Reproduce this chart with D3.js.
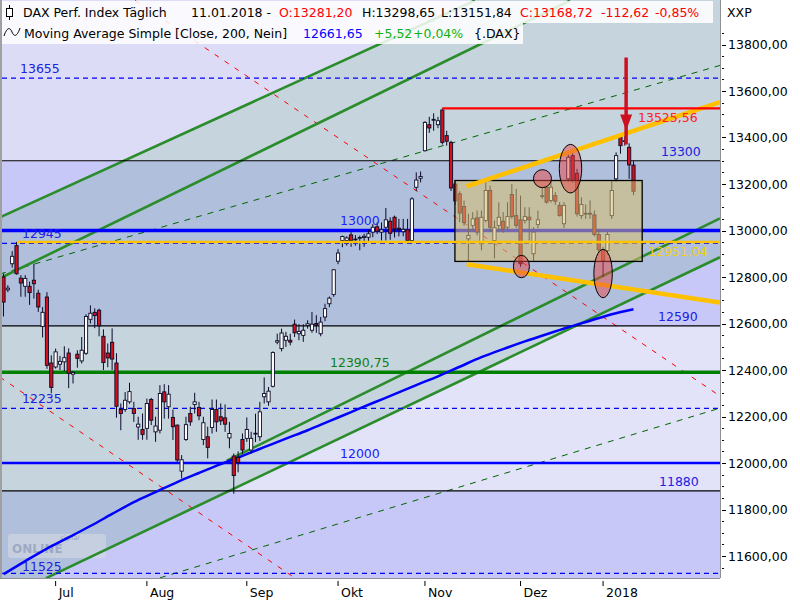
<!DOCTYPE html>
<html><head><meta charset="utf-8">
<script src="https://cdn.jsdelivr.net/npm/d3@7"></script>
<style>body{margin:0;background:#fff}svg{display:block;font-family:"DejaVu Sans",sans-serif}</style>
</head><body><svg id="c" width="800" height="600"></svg>
<script>
// ---------- DATA ----------
const opens  = [12800,12745,12857,12935,12795,12760,12760,12786,12730,12587,12714,12430,12413,12425,12435,12473,12382,12468,12439,12472,12618,12648,12657,12545,12473,12519,12430,12230,12230,12263,12234,12155,12144,12149,12273,12134,12141,12306,12242,12196,12163,11965,12101,12213,12252,12239,12101,12113,12153,12230,12199,12194,12108,12030,12024,12101,12106,12056,12125,12113,12285,12263,12330,12520,12492,12528,12528,12597,12556,12549,12592,12571,12600,12556,12628,12685,12725,12868,12957,12957,12981,12960,12968,12970,12971,12993,13016,12993,13014,13040,13057,13010,12995,13003,12957,13186,13225,13343,13455,13474,13455,13518,13408,13379,13200,13158,13103,12964,13022,13054,12943,13043,13172,12957,13022,13040,13014,13155,13064,13046,13043,13057,12900,13026,13148,13186,13129,13150,13108,13029,13222,13322,13246,13064,13072,13074,13067,12983,12914,12914,13064,13222,13401,13383,13358,13281.20];
const highs  = [12815,12765,12911,12951,12808,12808,12780,12857,12745,12671,12735,12463,12492,12460,12502,12493,12395,12485,12542,12640,12678,12665,12664,12575,12514,12579,12472,12256,12305,12345,12263,12199,12213,12277,12280,12199,12335,12339,12335,12230,12165,12034,12199,12242,12302,12263,12199,12156,12273,12273,12256,12252,12177,12041,12050,12127,12196,12134,12212,12263,12368,12327,12480,12556,12578,12564,12556,12617,12597,12597,12614,12650,12636,12628,12685,12716,12834,12920,12978,12975,12993,12980,12978,12986,13003,13028,13035,13035,13097,13057,13064,13050,13050,13050,13143,13250,13254,13470,13489,13504,13489,13525.56,13429,13386,13215,13169,13129,13072,13079,13086,13086,13208,13193,13043,13121,13079,13121,13200,13179,13150,13100,13100,13014,13086,13186,13193,13215,13165,13122,13122,13343,13336,13265,13143,13112,13130,13086,13000,12929,13000,13215,13336,13415,13408,13375,13298.65];
const lows   = [12630,12735,12840,12810,12715,12715,12680,12707,12650,12540,12405,12300,12406,12400,12395,12322,12342,12410,12428,12465,12600,12580,12545,12400,12412,12400,12195,12141,12220,12255,12177,12100,12100,12100,12163,12091,12127,12191,12191,12099,12005,11934,12095,12160,12213,12184,12077,12020,12127,12134,12163,12134,12063,11868,11960,12040,12091,12040,12090,12095,12256,12246,12325,12511,12480,12499,12506,12542,12528,12521,12578,12560,12560,12545,12610,12670,12715,12855,12928,12935,12930,12935,12915,12930,12950,12971,12985,12957,12957,12960,12970,12975,12975,12950,12950,13170,13207,13340,13420,13429,13440,13370,13365,13170,13110,13036,13020,12867,13000,12979,12915,13035,12993,12880,13000,12990,13000,13050,13010,12843,13030,12957,12870,13010,13136,13115,13120,13110,13060,13010,13210,13205,13060,13050,13050,13050,12975,12905,12800,12895,13050,13210,13330,13365,13222,13151.84];
const closes = [12692,12752,12889,12814,12774,12794,12733,12771,12671,12648,12420,12325,12478,12437,12453,12386,12389,12450,12485,12630,12644,12634,12590,12432,12452,12447,12244,12213,12270,12307,12213,12167,12123,12256,12184,12159,12299,12263,12296,12156,12013,12014,12165,12177,12263,12203,12173,12067,12230,12177,12181,12167,12127,11946,12002,12056,12144,12106,12128,12220,12299,12309,12475,12526,12559,12545,12520,12560,12566,12571,12599,12597,12594,12606,12664,12709,12831,12903,12974,12968,12957,12963,12970,12975,12986,13014,12997,13003,13046,12988,13007,13005,13005,12957,13136,13217,13232,13465,13441,13478,13472,13379,13384,13183,13127,13075,13034,12979,13050,12993,13057,13172,13014,13012,13057,13007,13060,13060,13022,12857,13060,13046,12993,13046,13150,13122,13186,13126,13064,13108,13315,13215,13072,13112,13074,13072,12983,12917,12871,12983,13172,13322,13365,13386,13282,13168.72];

// 200-day moving average, read at every 5th session (session index, value)
const maIndex  = [0,5,10,15,20,25,30,35,40,45,50,55,60,65,70,75,80,85,90,95,100,105,110,115,120,125,130,135,140,145];
const maValues = [11522,11578,11632,11680,11729,11781,11832,11875,11918,11957,11995,12031,12068,12105,12141,12180,12219,12258,12296,12335,12373,12414,12455,12490,12523,12554,12584,12612,12640,12661.65];

const monthLabels = ["Jul","Aug","Sep","Okt","Nov","Dez","2018"];
const monthIndex  = [12,33,56,77,97,119,138];
const priceTicks  = [11600,11800,12000,12200,12400,12600,12800,13000,13200,13400,13600,13800];

// horizontal levels
const hBlueSolid   = [13000, 12000];
const hBlueDashed  = [13655, 12945, 12235, 11525];
const hBlack       = [13300, 12590, 11880];
const hGreen       = [12390.75];
const hYellow      = 12951.04;
const hRedTop      = 13525.56;
const bandBreaks   = [13300, 12590, 11880];

// trend lines: [idx1, value1, idx2, value2]
const chanA = [-0.8, 13057, 108.5, 13989];   // upper solid
const chanC = [-0.8, 12795, 130.4, 13989];
const chanD = [51.4, 12010, 164.9, 13052];
const chanE = [9.8, 11505, 164.9, 12885];    // lower solid
const dashG1 = [-0.8, 12813, 164.9, 13710];
const dashG2 = [36.0, 11506, 164.9, 12236];
const dashR1 = [30.3, 13989, 164.9, 12288];
const dashR2 = [-0.8, 12369, 67.1, 11505];
const orangeUp = [106.6, 13190, 164.9, 13552];
const orangeLo = [106.6, 12855, 164.9, 12690];
const boxRange = [103.9, 13215, 147.0, 12867];
// ellipses: [idx, value, rIdx, rValue]
const ellipses = [[124.05,13223,2.07,38.7],[130.5,13266,2.58,104.4],[119.2,12845,1.84,48.1],[138.0,12815,2.12,104]];
const arrowIdx = 143.3, arrowFrom = 13744, arrowTo = 13430;

// ---------- DRAW ----------
const svg = d3.select("#c");
const PL = 2, PR = 720, PT = 0, PB = 578;
const x = d3.scaleLinear().domain([0,145]).range([3.5,633.5]);
const y = d3.scaleLinear().domain([11600,13800]).range([556,44.5]);
const iL = x.invert(PL), iR = x.invert(PR);
const loc = d3.formatLocale({decimal:",",thousands:".",grouping:[3],currency:["","€"]});
const f2 = loc.format(".2f");

const defs = svg.append("defs");
defs.append("clipPath").attr("id","plot").append("rect").attr("x",PL).attr("y",PT).attr("width",PR-PL).attr("height",PB-PT);
const at = (l,i)=> l[1] + (l[3]-l[1])*(i-l[0])/(l[2]-l[0]);
const chanPts = [[iL-5,at(chanA,iL-5)],[iR+5,at(chanA,iR+5)],[iR+5,at(chanE,iR+5)],[iL-5,at(chanE,iL-5)]];
defs.append("clipPath").attr("id","chan").append("polygon")
  .attr("points", chanPts.map(p=>[x(p[0]),y(p[1])].join(",")).join(" "));

const g = svg.append("g").attr("clip-path","url(#plot)");
// bands
const vTop = y.invert(PT-5), vBot = y.invert(PB+5);
const edges = [vTop, ...bandBreaks, vBot];
const outCols = ["#dcdcf6","#c8c8f8","#e2e2f8","#c8c8f8"];
const inCols  = ["#c6d4de","#b0c0dc","#c6d4de","#b0c0dc"];
edges.slice(0,-1).forEach((v,k)=>{
  g.append("rect").attr("x",PL).attr("width",PR-PL).attr("y",y(v)).attr("height",y(edges[k+1])-y(v)).attr("fill",outCols[k]);
});
const gc = g.append("g").attr("clip-path","url(#chan)");
edges.slice(0,-1).forEach((v,k)=>{
  gc.append("rect").attr("x",PL).attr("width",PR-PL).attr("y",y(v)).attr("height",y(edges[k+1])-y(v)).attr("fill",inCols[k]);
});

// watermark logo (behind the marks)
const wm = g.append("g").attr("opacity",0.55);
wm.append("rect").attr("x",8).attr("y",534).attr("width",98).attr("height",24).attr("rx",3).attr("fill","#d8dce4");
wm.append("text").attr("x",60).attr("y",540).attr("font-size","6.5px").attr("font-style","italic").attr("fill","#8088a0").text("signal");
wm.append("text").attr("x",12).attr("y",553).attr("font-size","12px").attr("font-weight","bold").attr("fill","#9098b0").text("ONLINE");

function seg(l, color, w, dash){
  g.append("line").attr("x1",x(l[0])).attr("y1",y(l[1])).attr("x2",x(l[2])).attr("y2",y(l[3]))
   .attr("stroke",color).attr("stroke-width",w).attr("stroke-dasharray",dash||null);
}
seg(dashR1,"#ff0000",1,"5,7");
seg(dashR2,"#ff0000",1,"5,7");
seg(dashG1,"#006400",1,"6,6");
seg(dashG2,"#006400",1,"6,6");
[chanA,chanC,chanD,chanE].forEach(l=>seg(l,"#2a8c2a",2.6));

function hline(v,color,w,dash,i0){
  g.append("line").attr("x1",i0==null?PL:x(i0)).attr("x2",PR).attr("y1",y(v)).attr("y2",y(v))
   .attr("stroke",color).attr("stroke-width",w).attr("stroke-dasharray",dash||null);
}
hBlack.forEach(v=>hline(v,"#000",1.2));
hBlueDashed.forEach(v=>hline(v,"#0000ff",1.2,"5,4"));
hline(hBlueSolid[0],"#0000ff",3.5);
hline(hBlueSolid[1],"#0000ff",2.5);
hGreen.forEach(v=>hline(v,"#008000",3.5));

// MA
g.append("path").datum(maIndex.map((d,k)=>[d,maValues[k]]))
 .attr("d",d3.line().x(d=>x(d[0])).y(d=>y(d[1])).curve(d3.curveMonotoneX))
 .attr("fill","none").attr("stroke","#0000ff").attr("stroke-width",2.5);

// candles
const cg = g.append("g");
opens.forEach((o,i)=>{
  const c = closes[i], up = c>=o;
  cg.append("line").attr("x1",x(i)).attr("x2",x(i)).attr("y1",y(highs[i])).attr("y2",y(lows[i])).attr("stroke","#0a0a28").attr("stroke-width",1);
  const top = y(Math.max(o,c)), bot = y(Math.min(o,c));
  cg.append("rect").attr("x",x(i)-1.6).attr("width",3.2).attr("y",top).attr("height",Math.max(bot-top,0.8))
    .attr("fill",up?"#ffffff":"#d4101c").attr("stroke","#0a0a28").attr("stroke-width",0.9);
});

// box
g.append("rect").attr("x",x(boxRange[0])).attr("y",y(boxRange[1]))
 .attr("width",x(boxRange[2])-x(boxRange[0])).attr("height",y(boxRange[3])-y(boxRange[1]))
 .attr("fill","rgba(215,190,110,0.55)").attr("stroke","#000").attr("stroke-width",1.3);

hline(hYellow,"#ffc400",2.5,null,3.1);
seg(orangeUp,"#ffc000",4.5);
seg(orangeLo,"#ffc000",4.5);
hline(hRedTop,"#ff0000",2.2,null,101);

// arrow
g.append("line").attr("x1",x(arrowIdx)).attr("x2",x(arrowIdx)).attr("y1",y(arrowFrom)).attr("y2",y(arrowTo)+14)
 .attr("stroke","#cc1020").attr("stroke-width",3.5);
g.append("path").attr("d",`M${x(arrowIdx)-6},${y(arrowTo)-16} L${x(arrowIdx)+6},${y(arrowTo)-16} L${x(arrowIdx)},${y(arrowTo)} Z`)
 .attr("fill","#cc1020");

// ellipses
ellipses.forEach(e=>{
  g.append("ellipse").attr("cx",x(e[0])).attr("cy",y(e[1]))
   .attr("rx",x(e[0]+e[2])-x(e[0])).attr("ry",y(e[1]-e[3])-y(e[1]))
   .attr("fill","rgba(232,70,70,0.5)").attr("stroke","#000").attr("stroke-width",1);
});

// labels on chart
const fs = "12.5px";
function lab(t,xx,v,dy,color){
  g.append("text").attr("x",xx).attr("y",y(v)+dy).attr("fill",color).attr("font-size",fs).text(t);
}
lab("13655",20,hBlueDashed[0],-5,"#2020e0");
lab("12945",22,hBlueDashed[1],-5,"#2020e0");
lab("12235",22,hBlueDashed[2],-5,"#2020e0");
lab("11525",22,hBlueDashed[3],-2,"#2020e0");
lab("13000",340,hBlueSolid[0],-6,"#2020ff");
lab("12000",340,hBlueSolid[1],-5,"#2020ff");
lab("12390,75",330,hGreen[0],-5,"#108010");
lab("13300",661,hBlack[0],-5,"#2020e0");
lab("12590",658,hBlack[1],-5,"#2020e0");
lab("11880",659,hBlack[2],-5,"#2020e0");
lab("13525,56",638,hRedTop,14,"#ff2020");
lab("12951,04",648,hYellow,14,"#f0d000");

// borders
svg.append("line").attr("x1",PR+0.5).attr("x2",PR+0.5).attr("y1",0).attr("y2",PB).attr("stroke","#909090");
svg.append("line").attr("x1",0).attr("x2",PR).attr("y1",PB+0.5).attr("y2",PB+0.5).attr("stroke","#909090");
svg.append("rect").attr("x",0).attr("y",0).attr("width",2).attr("height",PB).attr("fill","#a0a0a0");

// right axis
const ra = svg.append("g").attr("font-size",fs);
d3.range(11550,13851,50).forEach(v=>{
  const major = v%200===0;
  ra.append("line").attr("x1",722).attr("x2",major?726:724).attr("y1",Math.round(y(v))+0.5).attr("y2",Math.round(y(v))+0.5).attr("stroke","#000");
});
priceTicks.forEach(v=>{
  ra.append("text").attr("x",728).attr("y",y(v)+4.5).attr("fill","#000").text(f2(v));
});
ra.append("text").attr("x",727).attr("y",17).text("XXP");

// bottom axis
const ba = svg.append("g").attr("font-size",fs);
monthIndex.forEach((m,k)=>{
  ba.append("line").attr("x1",x(m)).attr("x2",x(m)).attr("y1",PB+3).attr("y2",PB+8).attr("stroke","#000");
  ba.append("text").attr("x",x(m)+3).attr("y",597).text(monthLabels[k]);
});

// header
const hd = svg.append("g").attr("font-size",fs);
hd.append("rect").attr("x",2).attr("y",1).attr("width",711).attr("height",22).attr("fill","rgba(255,255,255,0.85)");
hd.append("rect").attr("x",2).attr("y",23).attr("width",521).attr("height",21).attr("fill","rgba(255,255,255,0.85)");
hd.append("line").attr("x1",9.5).attr("x2",9.5).attr("y1",5).attr("y2",20).attr("stroke","#000");
hd.append("rect").attr("x",6.5).attr("y",8.5).attr("width",6).attr("height",8).attr("fill","#fff").attr("stroke","#000");
hd.append("path").attr("d","M4,36 C7,27 10,27 12,32 C14,37 17,37 20,28").attr("fill","none").attr("stroke","#000");
const t1 = [["DAX Perf. Index Täglich",23,"#000"],["11.01.2018 -",191,"#000"],["O:13281,20",279,"#ff0000"],["H:13298,65",362,"#000"],["L:13151,84",441,"#000"],["C:13168,72",520,"#ff0000"],["-112,62",601,"#ff0000"],["-0,85%",655,"#ff0000"]];
t1.forEach(t=>hd.append("text").attr("x",t[1]).attr("y",17).attr("fill",t[2]).text(t[0]));
const t2 = [["Moving Average Simple [Close, 200, Nein]",24,"#000"],["12661,65",303,"#0000ff"],["+5,52",374,"#10b010"],["+0,04%",413,"#10b010"],["{.DAX}",474,"#000"]];
t2.forEach(t=>hd.append("text").attr("x",t[1]).attr("y",38).attr("fill",t[2]).text(t[0]));
</script></body></html>
